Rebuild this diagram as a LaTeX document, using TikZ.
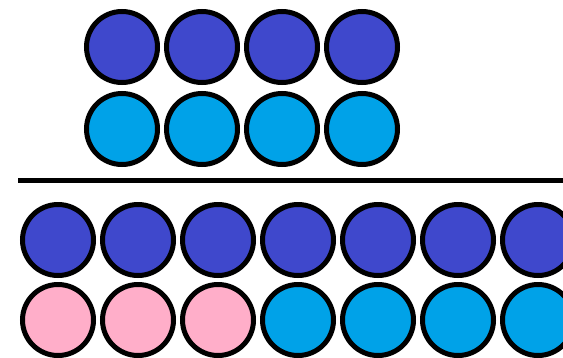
\documentclass[tikz,border=0pt]{standalone}
\usetikzlibrary{positioning}
\definecolor{indigo}{RGB}{63,72,204}
\definecolor{turq}{RGB}{0,162,232}
\definecolor{rose}{RGB}{255,174,201}

\begin{document}
\begin{tikzpicture}[
  x=0.75pt, y=-0.75pt,
  bead/.style={circle, draw=black, line width=3.75pt, minimum size=53.25pt,
               inner sep=0pt},
  bar/.style={draw=black, line width=3.75pt}
]
\useasboundingbox (0,0) rectangle (563,357);
%--- top: 4 over 4 ------------------------------------------------------------
\foreach \i in {1,...,4}{
  \node[bead, fill=indigo] (ta\i) at ({42+80*\i},47) {};
  \node[bead, fill=turq] (tb\i) at ({42+80*\i},129) {};
}
%--- fraction bar -------------------------------------------------------------
\coordinate (barl) at (18,180.5);
\coordinate (barr) at (563,180.5);
\draw[bar] (barl) -- (barr);
%--- bottom: 7 over 3+4 -------------------------------------------------------
\foreach \i/\cc in {1/rose,2/rose,3/rose,4/turq,5/turq,6/turq,7/turq}{
  \node[bead, fill=indigo] (ba\i) at ({-22+80*\i},240) {};
  \node[bead, fill=\cc] (bb\i) at ({-22+80*\i},320) {};
}
\end{tikzpicture}
\end{document}
